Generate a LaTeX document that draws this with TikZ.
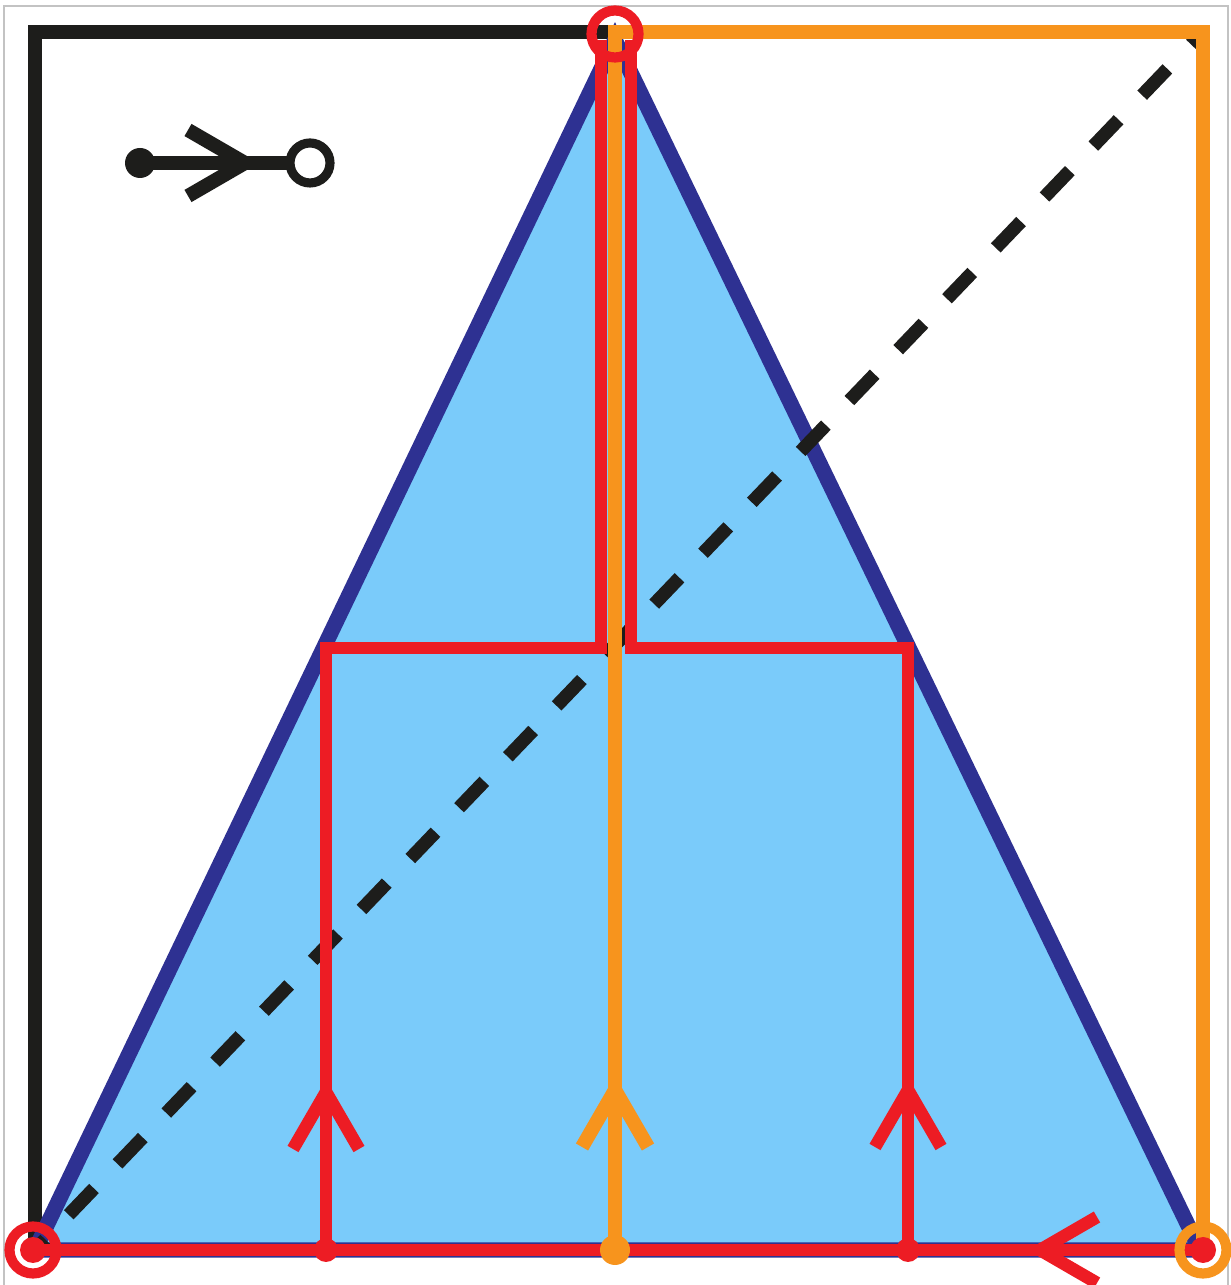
\documentclass[tikz,border=0pt]{standalone}
\usepackage{tikz}
\usetikzlibrary{calc}
\usepackage{xcolor}
\definecolor{triblue}{RGB}{122, 203, 250}
\definecolor{edgeblue}{RGB}{46,  49, 146}
\definecolor{pathred}{RGB}{237, 28,  36}
\definecolor{pathorange}{RGB}{247,148, 29}
\definecolor{frameblack}{RGB}{29, 29,  27}
\definecolor{bordergray}{RGB}{195,195,195}
\tikzset{
  % Asosiy chiziqlar
  frameline/.style  = {line width=4pt, draw=frameblack},
  orangeline/.style = {line width=4pt, draw=pathorange},
  redline/.style    = {line width=3.6pt, draw=pathred},
  % Uchburchak
  trishape/.style   = {fill=triblue, draw=edgeblue, line width=4.4pt},
  % Diagonal (punktir)
  diagdash/.style   = {line width=3.8pt, draw=frameblack,
                       dash pattern=on 0.365cm off 0.34cm, dash phase=0.2175cm},
  % Nuqtalar va halqalar
  dotred/.style     = {fill=pathred},
  dotorange/.style  = {fill=pathorange},
  redring/.style    = {draw=pathred, line width=2.9pt},
  orangering/.style = {draw=pathorange, line width=2.9pt},
  % Strelka (ochiq uchli)
  chev/.pic = {\draw[pic actions] (-0.57,0.33) -- (0,0) -- (-0.57,-0.33);},
}

\begin{document}
\begin{tikzpicture}
  \useasboundingbox (0,0) rectangle (12.31,12.85);
  \pgfmathsetmacro{\yb}{0.35}
  \pgfmathsetmacro{\ym}{6.37}
  \pgfmathsetmacro{\yt}{12.53}
  % Tayanch nuqtalar
  \coordinate (A)  at (0.35,\yb);
  \coordinate (B)  at (12.00,\yb);
  \coordinate (T)  at (6.15,12.45);
  \coordinate (TL) at (0.35,\yt);
  \coordinate (TR) at (12.03,\yt);
  \coordinate (P1) at (3.26,\yb);
  \coordinate (P2) at (6.15,\yb);
  \coordinate (P3) at (9.08,\yb);
  \coordinate (OA) at (0.33,\yb);
  \coordinate (OB) at (12.03,\yb);
  % Tashqi kulrang ramka
  \draw[bordergray, line width=0.8pt] (0.04,-0.2) -- (0.04,12.79) -- (12.28,12.79) -- (12.28,-0.2);
  % Kvadrat
  \draw[frameline] (A) rectangle (TR);
  % Uchburchak
  \draw[trishape] (A) -- (T) -- (B) -- cycle;
  % Diagonal
  \draw[diagdash] (A) -- (11.97,12.47);
  % Qizil yo'llar
  \draw[redline] (P1) -- (3.26,\ym) -- (6.01,\ym) -- (6.01,12.45);
  \draw[redline] (P3) -- (9.08,\ym) -- (6.31,\ym) -- (6.31,12.45);
  \draw[redline] (OA) -- (OB);
  % To'q sariq yo'l
  \draw[orangeline] (6.08,\yt) -- (TR) -- (OB);
  \draw[orangeline] (6.15,\yt) -- (P2);
  % Strelkalar
  \pic[redline, rotate=90] at (3.26,1.93) {chev};
  \pic[redline, rotate=90] at (9.08,1.95) {chev};
  \pic[orangeline, rotate=90] at (6.15,1.95) {chev};
  \pic[redline, rotate=180] at (10.40,\yb) {chev};
  % Pastki nuqtalar
  \fill[dotred] (P1) circle (0.12);
  \fill[dotred] (P3) circle (0.12);
  \fill[dotorange] (P2) circle (0.15);
  \fill[dotred] (OA) circle (0.13);
  \fill[dotred] (OB) circle (0.13);
  % Halqalar
  \draw[redring] (OA) circle (0.235);
  \draw[orangering] (OB) circle (0.235);
  \draw[redring] (6.15,12.51) circle (0.235);
  % Belgi (legend)
  \coordinate (Ls) at (1.40,11.22);
  \coordinate (Le) at (3.10,11.22);
  \draw[frameline] (Ls) -- (Le);
  \pic[frameline] at (2.45,11.22) {chev};
  \fill[frameblack] (Ls) circle (0.15);
  \draw[frameline, line width=2.6pt, fill=white] (Le) circle (0.2);
\end{tikzpicture}
\end{document}
